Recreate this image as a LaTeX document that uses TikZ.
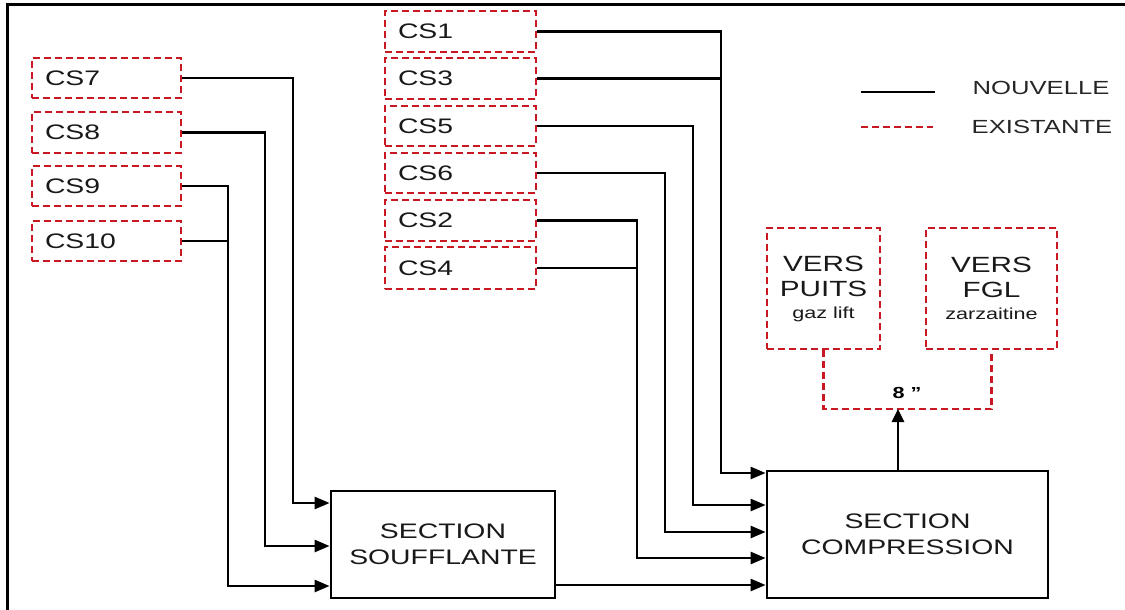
\documentclass[tikz,border=0pt]{standalone}
\usepackage{fontspec}
\setmainfont{Liberation Sans}[FakeStretch=1.35]
\usetikzlibrary{arrows.meta}
\definecolor{exred}{RGB}{200,25,35}
\tikzset{
  cs/.style={draw=exred, line width=2.6pt, dash pattern=on 7pt off 4pt, fill=white,
    text width=123pt, align=left, inner xsep=13pt, inner ysep=0pt, minimum height=40pt,
    font=\fontsize{21}{24}\selectfont, text=black!90},
  dest/.style={draw=exred, line width=2.6pt, dash pattern=on 7pt off 4pt, fill=white,
    align=center, inner sep=0pt, minimum height=121pt, text=black!90,
    font=\fontsize{22}{25}\selectfont},
  small/.style={},
  sect/.style={draw=black, line width=2.8pt, fill=white, align=center, inner sep=0pt,
    font=\fontsize{21}{26}\selectfont, text=black!90},
  pipe/.style={draw=black, line width=2.6pt},
  arr/.style={pipe, -{Triangle[length=15pt,width=12pt]}},
  exline/.style={draw=exred, line width=2.6pt, dash pattern=on 7pt off 4pt},
  legtext/.style={font=\fontsize{19}{22}\selectfont, text=black!85, inner sep=0pt}
}
\newcommand{\smalltxt}[1]{{\fontsize{16}{19}\selectfont #1}}
\begin{document}
\begin{tikzpicture}[x=1pt,y=-1pt]
\useasboundingbox (0,0) rectangle (1125,610);
% frame
\draw[line width=3pt] (7.5,612) -- (7.5,4.5) -- (1127,4.5);

% source boxes
\node[cs, minimum height=40pt] (cs7)  at (106.5,78)  {CS7};
\node[cs, minimum height=41pt] (cs8)  at (106.5,132.5) {CS8};
\node[cs, minimum height=40pt] (cs9)  at (106.5,186) {CS9};
\node[cs, minimum height=40pt] (cs10) at (106.5,241) {CS10};

\node[cs, text width=125pt, minimum height=41pt] (cs1) at (460.5,31.5) {CS1};
\node[cs, text width=125pt, minimum height=41pt] (cs3) at (460.5,78.5) {CS3};
\node[cs, text width=125pt, minimum height=40pt] (cs5) at (460.5,126) {CS5};
\node[cs, text width=125pt, minimum height=40pt] (cs6) at (460.5,173) {CS6};
\node[cs, text width=125pt, minimum height=41pt] (cs2) at (460.5,220.5) {CS2};
\node[cs, text width=125pt, minimum height=42pt] (cs4) at (460.5,268) {CS4};

% sections
\node[sect, minimum width=224pt, minimum height=107pt] (souff) at (443,544.5) {SECTION\\SOUFFLANTE};
\node[sect, minimum width=281pt, minimum height=127pt] (comp) at (907.5,534.5) {SECTION\\COMPRESSION};

% destinations
\node[dest, minimum width=113pt] (puits) at (823.5,288.5)
  {VERS\\PUITS\\[-3pt]\smalltxt{gaz lift}};
\node[dest, minimum width=131pt] (fgl) at (991.5,288.5)
  {VERS\\FGL\\[-3pt]\smalltxt{zarzaitine}};

% connectors to soufflante
\draw[arr] (cs7.east) -| (293,503) -- ([yshift=41.5pt]souff.west);
\draw[arr] (cs8.east) -| (265,546) -- ([yshift=-1.5pt]souff.west);
\draw[arr] (cs9.east) -| (228,586) -- ([yshift=-41.5pt]souff.west);
\draw[pipe] (cs10.east) -- (228,241);

% connectors to compression
\draw[arr] (cs1.east) -| (721,473) -- ([yshift=61.5pt]comp.west);
\draw[pipe] (cs3.east) -- (721,78.5);
\draw[arr] (cs5.east) -| (693,505) -- ([yshift=29.5pt]comp.west);
\draw[arr] (cs6.east) -| (665,532) -- ([yshift=2.5pt]comp.west);
\draw[arr] (cs2.east) -| (637,558) -- ([yshift=-23.5pt]comp.west);
\draw[pipe] (cs4.east) -- (637,268);
\draw[arr] ([yshift=-40.5pt]souff.east) -- ([yshift=-50.5pt]comp.west);

% output
\coordinate (j) at (898,409);
\draw[exline] (puits.south) |- (j) -| (fgl.south);
\draw[pipe, -{Triangle[length=13pt,width=12pt]}] ([xshift=-9.5pt]comp.north) -- (j);
\node[font=\bfseries\fontsize{16}{18}\selectfont, inner sep=0pt] (lbl) at (907,393) {8 ”};

% legend
\coordinate (l1a) at (861,92);
\coordinate (l1b) at (935,92);
\draw[pipe] (l1a) -- (l1b);
\node[legtext] (lt1) at (1041,88) {NOUVELLE};
\coordinate (l2a) at (861,127);
\coordinate (l2b) at (933,127);
\draw[exline] (l2a) -- (l2b);
\node[legtext] (lt2) at (1042,127) {EXISTANTE};
\end{tikzpicture}
\end{document}
